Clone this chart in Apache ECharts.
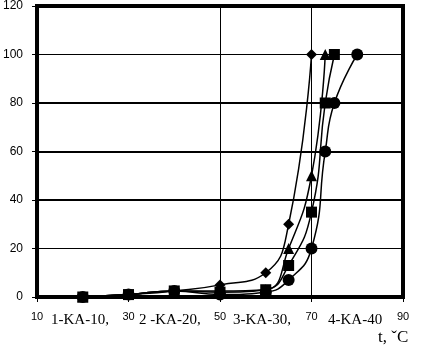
<!DOCTYPE html>
<html>
<head>
<meta charset="utf-8">
<script src="https://cdn.jsdelivr.net/npm/echarts@6/dist/echarts.min.js"></script>
<style>html,body{margin:0;padding:0;background:#fff;}#c{width:424px;height:350px;}</style>
</head>
<body>
<div id="c"></div>
<script>
// Data
const seriesNames = ['1-KA-10,', '2 -KA-20,', '3-KA-30,', '4-KA-40'];
const x1 = [20, 30, 40, 50, 60, 65, 70];
const y1 = [0, 1, 2.5, 5, 10, 30, 100];
const x2 = [20, 30, 40, 50, 60, 65, 70, 73, 75];
const y2 = [0, 1, 2.5, 2, 3, 13, 35, 80, 100];
const x3 = [20, 30, 40, 50, 60, 65, 70, 73];
const y3 = [0, 1, 2.5, 2.5, 3, 20, 50, 100];
const x4 = [20, 30, 40, 50, 60, 65, 70, 73, 75, 80];
const y4 = [0, 1, 2.5, 1, 2, 7, 20, 60, 80, 100];
const xTicks = [10, 30, 50, 70, 90];
const xGridValues = [50, 70];
const yThickGrid = [40, 60, 80];
const axisTitle = 't, ˇC';

const zip = (xs, ys) => xs.map((x, i) => [x, ys[i]]);
const symbols = ['diamond', 'rect', 'triangle', 'circle'];
const sizes = [11, 11, 11, 12];
const xsAll = [x1, x2, x3, x4];
const ysAll = [y1, y2, y3, y4];

const chart = echarts.init(document.getElementById('c'), null, {renderer: 'canvas'});

const series = seriesNames.map((name, i) => ({
  name: name,
  type: 'line',
  data: zip(xsAll[i], ysAll[i]),
  smooth: 0.5,
  symbol: symbols[i],
  symbolSize: sizes[i],
  itemStyle: {color: '#000'},
  lineStyle: {color: '#000', width: 1.5},
  z: 5,
  markLine: i === 0 ? {
    silent: true,
    symbol: 'none',
    label: {show: false},
    animation: false,
    data: xGridValues.map(v => ({xAxis: v, lineStyle: {color: '#000', width: 1, type: 'solid'}}))
      .concat(yThickGrid.map(v => ({yAxis: v, lineStyle: {color: '#000', width: 2, type: 'solid'}})))
  } : undefined
}));

// positions of the series name labels under the axis
const labelLefts = [51, 139, 233, 328];

chart.setOption({
  animation: false,
  backgroundColor: '#fff',
  grid: {left: 35, right: 21, top: 5, bottom: 53, show: true, borderColor: '#000', borderWidth: 4, backgroundColor: 'transparent'},
  xAxis: {
    type: 'value', min: 10, max: 90,
    axisLine: {show: true, lineStyle: {color: '#000', width: 4}},
    axisTick: {show: true, customValues: xTicks, length: 5, lineStyle: {color: '#000', width: 1}},
    axisLabel: {customValues: xTicks, margin: 14, fontFamily: 'Liberation Sans', fontSize: 11, color: '#000'},
    splitLine: {show: false}
  },
  yAxis: {
    type: 'value', min: 0, max: 120, interval: 20,
    axisLine: {show: true, lineStyle: {color: '#000', width: 4}},
    axisTick: {show: true, length: 5, lineStyle: {color: '#000', width: 1}},
    axisLabel: {margin: 14, fontFamily: 'Liberation Sans', fontSize: 12, color: '#000'},
    splitLine: {show: true, lineStyle: {color: '#000', width: 1}}
  },
  series: series,
  graphic: seriesNames.map((n, i) => ({
    type: 'text', left: labelLefts[i], top: 313,
    style: {text: n, font: '15px "Liberation Serif"', fill: '#000'}
  })).concat([{
    type: 'text', left: 378, top: 329,
    style: {text: axisTitle, font: '17px "Liberation Serif"', fill: '#000'}
  }])
});
</script>
</body>
</html>
